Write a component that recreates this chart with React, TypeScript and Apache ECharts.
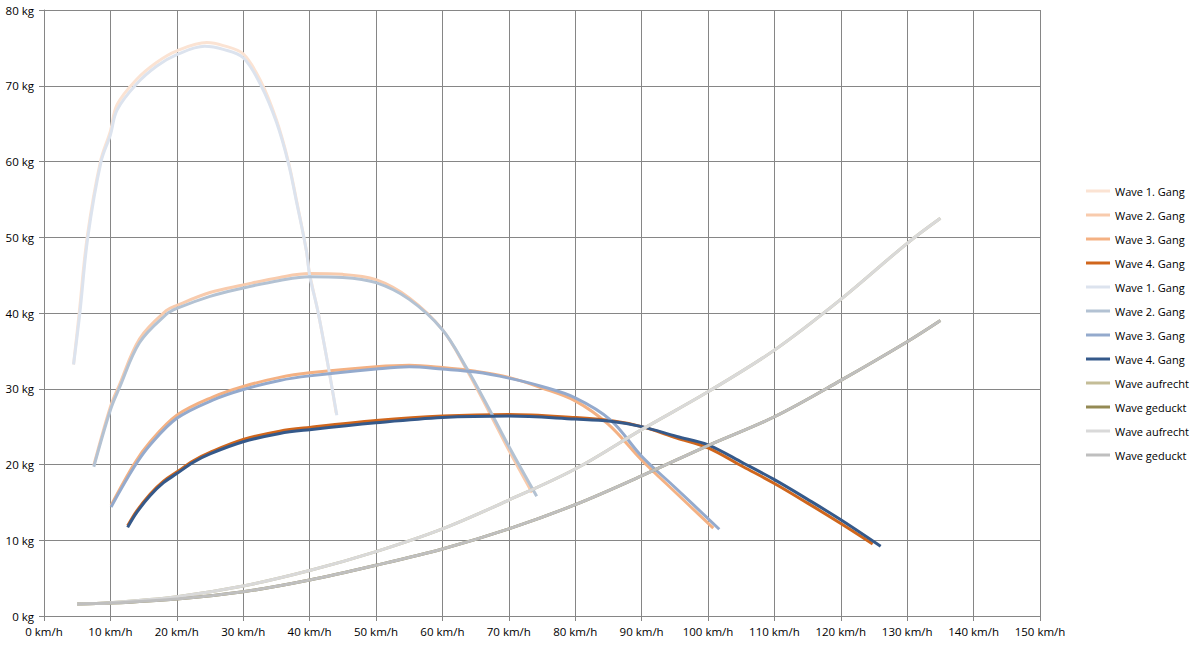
import React, { useEffect, useRef } from "react";
import * as echarts from "echarts";

const seriesNames = [
  "Wave 1. Gang", "Wave 2. Gang", "Wave 3. Gang", "Wave 4. Gang",
  "Wave 1. Gang", "Wave 2. Gang", "Wave 3. Gang", "Wave 4. Gang",
  "Wave aufrecht", "Wave geduckt", "Wave aufrecht", "Wave geduckt",
];

const seriesColors = [
  "#FBE3D3", "#F8CBAD", "#F4B183", "#D0661C",
  "#DCE3EE", "#B3C2D3", "#94AACD", "#35598A",
  "#C4BD97", "#948A54", "#D9D9D9", "#BFBFBF",
];

// [km/h, kg]
const gang1Orange = [[4.45,33.2],[5.3,40],[6.5,50],[8.5,60],[10,64],[11,67.5],[13.9,70.8],[17,73.1],[20,74.6],[24.5,75.7],[27,75.3],[30,74.2],[32.7,70.5],[35,65.5],[36.8,60],[38,55],[39.5,48.3],[40,45.2],[41.3,40],[43,32],[44,26.8]];
const gang2Orange = [[7.5,19.9],[10,27.6],[11.3,30.4],[14.4,36.6],[18.4,40.3],[20,41.0],[25,42.7],[30,43.7],[35.5,44.7],[40,45.2],[45,45.1],[50,44.4],[55,42.0],[60,37.8],[63.6,32.6],[67,27.0],[70,21.9],[73.5,16.3]];
const gang3Orange = [[10.1,14.6],[13.6,20.1],[16,23.0],[20,26.5],[25.4,28.9],[30,30.3],[35.5,31.5],[40,32.1],[50,32.9],[55,33.1],[60,32.8],[65,32.3],[70,31.5],[75,30.1],[80,28.4],[85,25.3],[90,20.6],[95,16.4],[100.8,11.6]];
const gang4Orange = [[12.6,11.9],[14,13.9],[16,16.1],[18,17.8],[20,19.0],[22.5,20.5],[25,21.6],[30,23.3],[35.5,24.4],[40,24.9],[50,25.8],[60,26.4],[70,26.6],[80,26.2],[85.3,25.8],[90,25.0],[95.3,23.5],[100,22.2],[105.3,19.7],[110,17.5],[115,14.9],[120,12.2],[124.8,9.5]];

const gang1Blue = [[4.45,33.2],[5.4,40],[6.6,50],[8.6,60],[10,63.5],[11,66.8],[13.9,70.2],[17,72.6],[20,74.1],[24.2,75.2],[27,74.8],[30,73.7],[32.7,70],[35,65.2],[36.8,59.8],[38,54.8],[39.5,48.3],[40,45],[41.3,40],[43,32],[44.1,26.5]];
const gang2Blue = [[7.5,19.7],[10,27.2],[11.3,30],[14.4,36.1],[18.4,39.8],[20,40.6],[25,42.2],[30,43.3],[35.5,44.3],[40,44.8],[45,44.7],[50,44.0],[55,41.8],[60,37.8],[63.6,32.8],[67,27.4],[70,22.4],[74.2,15.8]];
const gang3Blue = [[10.1,14.4],[13.6,19.7],[16,22.6],[20,26.1],[25.4,28.5],[30,29.9],[35.5,31.1],[40,31.7],[50,32.6],[55,32.9],[60,32.6],[65,32.2],[70,31.4],[75,30.3],[80,28.8],[85.3,25.9],[90,21.1],[95,17.0],[101.7,11.45]];
const gang4Blue = [[12.6,11.7],[14,13.7],[16,15.9],[18,17.6],[20,18.8],[22.5,20.3],[25,21.4],[30,23.0],[35.5,24.1],[40,24.6],[50,25.5],[60,26.2],[70,26.4],[80,26.0],[85.3,25.7],[90,25.0],[95.3,23.7],[100,22.6],[105.3,20.2],[110,18.0],[115,15.4],[120,12.7],[126,9.2]];

const aufrechtTan = [[5,1.6],[10,1.76],[20,2.55],[30,3.96],[40,6.0],[50,8.5],[60,11.5],[70,15.3],[80,19.4],[90,24.6],[100,29.6],[110,35.1],[120,41.8],[130,49.2],[135,52.5]];
const geducktTan = [[5,1.6],[10,1.7],[20,2.25],[30,3.2],[40,4.75],[50,6.7],[60,8.85],[70,11.5],[80,14.7],[90,18.5],[100,22.5],[110,26.3],[120,31.1],[130,36.2],[135,39.0]];
const aufrechtGrey = [[5,1.6],[10,1.76],[20,2.55],[30,3.96],[40,6.0],[50,8.5],[60,11.5],[70,15.3],[80,19.4],[90,24.6],[100,29.6],[110,35.1],[120,41.8],[130,49.2],[135,52.5]];
const geducktGrey = [[5,1.6],[10,1.7],[20,2.25],[30,3.2],[40,4.75],[50,6.7],[60,8.85],[70,11.5],[80,14.7],[90,18.5],[100,22.5],[110,26.3],[120,31.1],[130,36.2],[135,39.0]];

const seriesData = [
  gang1Orange, gang2Orange, gang3Orange, gang4Orange,
  gang1Blue, gang2Blue, gang3Blue, gang4Blue,
  aufrechtTan, geducktTan, aufrechtGrey, geducktGrey,
];

const FONT = "'Open Sans', sans-serif";
const GRID = "#868686";

export default function App() {
  const ref = useRef<HTMLDivElement>(null);
  useEffect(() => {
    if (!ref.current) return;
    const chart = echarts.init(ref.current, undefined, { renderer: "svg" });
    const ids = seriesNames.map((n, i) => `s${i}`);
    chart.setOption({
      animation: false,
      backgroundColor: "#ffffff",
      textStyle: { fontFamily: FONT },
      grid: { left: 44, right: 164, top: 10, bottom: 31, containLabel: false },
      xAxis: {
        type: "value",
        min: 0,
        max: 150,
        interval: 10,
        axisLine: { show: true, lineStyle: { color: GRID, width: 1 } },
        axisTick: { show: true, length: 5, lineStyle: { color: GRID } },
        splitLine: { show: true, lineStyle: { color: GRID, width: 1 } },
        axisLabel: { formatter: "{value} km/h", color: "#000", fontSize: 11.5, fontFamily: FONT, margin: 9 },
      },
      yAxis: {
        type: "value",
        min: 0,
        max: 80,
        interval: 10,
        axisLine: { show: true, lineStyle: { color: GRID, width: 1 } },
        axisTick: { show: true, length: 5, lineStyle: { color: GRID } },
        splitLine: { show: true, lineStyle: { color: GRID, width: 1 } },
        axisLabel: { formatter: "{value} kg", color: "#000", fontSize: 11.5, fontFamily: FONT, margin: 10 },
      },
      legend: {
        orient: "vertical",
        left: 1086,
        top: 184,
        itemWidth: 24,
        itemHeight: 3,
        itemGap: 10,
        padding: 0,
        icon: "rect",
        selectedMode: false,
        formatter: (name: string) => seriesNames[ids.indexOf(name)],
        textStyle: { color: "#000", fontSize: 11, fontFamily: FONT, lineHeight: 14 },
        data: ids.map((id, i) => ({ name: id, itemStyle: { color: seriesColors[i] } })),
      },
      series: seriesData.map((d, i) => ({
        type: "line",
        name: ids[i],
        data: d,
        smooth: 0.35,
        symbol: "none",
        color: seriesColors[i],
        lineStyle: { color: seriesColors[i], width: 3 },
      })),
    });
    return () => chart.dispose();
  }, []);
  return <div ref={ref} style={{ position: "fixed", left: 0, top: 0, width: 1204, height: 647 }} />;
}
